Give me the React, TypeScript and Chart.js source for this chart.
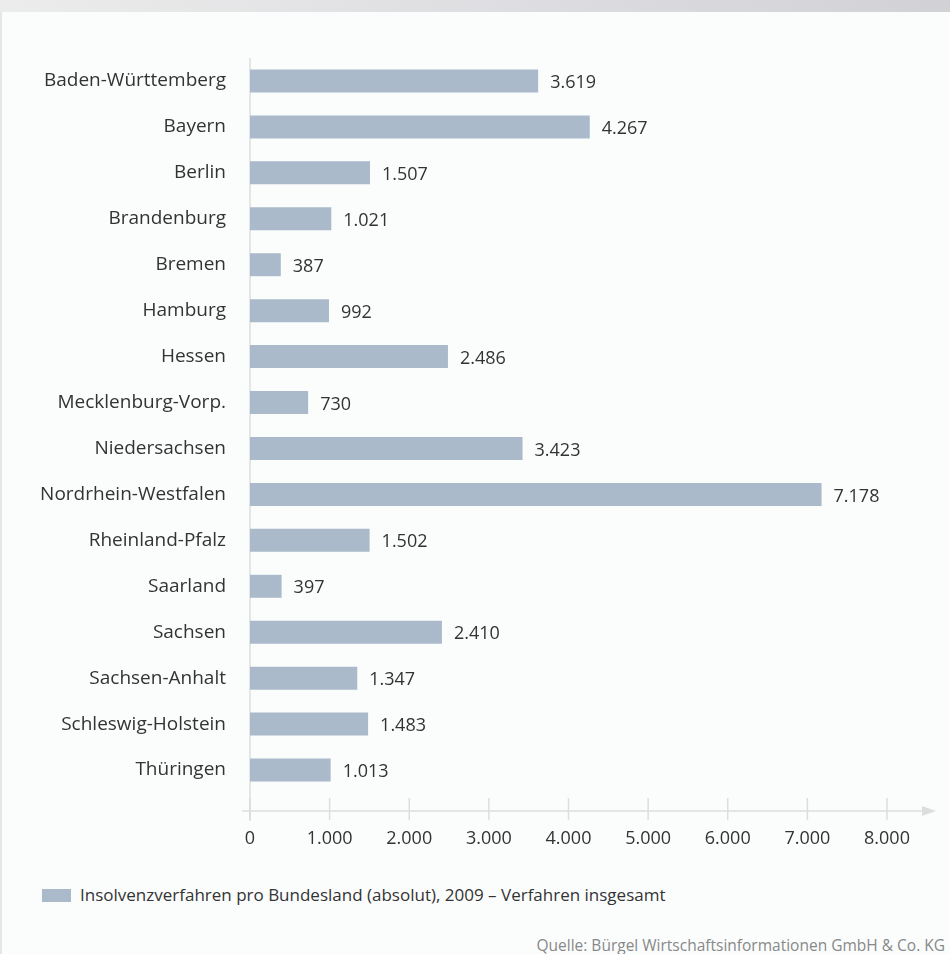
import React, { useEffect, useRef } from "react";
import { Chart, registerables } from "chart.js";

Chart.register(...registerables);

const categories = [
  "Baden-Württemberg",
  "Bayern",
  "Berlin",
  "Brandenburg",
  "Bremen",
  "Hamburg",
  "Hessen",
  "Mecklenburg-Vorp.",
  "Niedersachsen",
  "Nordrhein-Westfalen",
  "Rheinland-Pfalz",
  "Saarland",
  "Sachsen",
  "Sachsen-Anhalt",
  "Schleswig-Holstein",
  "Thüringen",
];

const values = [3619, 4267, 1507, 1021, 387, 992, 2486, 730, 3423, 7178, 1502, 397, 2410, 1347, 1483, 1013];

const axisMin = 0;
const axisMax = 8000;
const axisStep = 1000;

const legendLabel = "Insolvenzverfahren pro Bundesland (absolut), 2009 – Verfahren insgesamt";
const sourceLabel = "Quelle: Bürgel Wirtschaftsinformationen GmbH & Co. KG";

const FONT = "'Open Sans', 'Noto Sans', sans-serif";
const BAR_COLOR = "#aabaca";
const TEXT_COLOR = "#333333";
const AXIS_COLOR = "#dddddd";

const fmt = (v: number) => v.toLocaleString("de-DE");

const valueLabelPlugin = {
  id: "valueLabels",
  afterDatasetsDraw(chart: any) {
    const ctx = chart.ctx;
    const meta = chart.getDatasetMeta(0);
    ctx.save();
    ctx.font = `18px ${FONT}`;
    ctx.fillStyle = TEXT_COLOR;
    ctx.textAlign = "left";
    ctx.textBaseline = "middle";
    meta.data.forEach((bar: any, i: number) => {
      ctx.fillText(fmt(values[i]), bar.x + 12, bar.y + 2);
    });
    ctx.restore();
  },
};

const axisPlugin = {
  id: "customAxes",
  beforeDatasetsDraw(chart: any) {
    const ctx = chart.ctx;
    const area = chart.chartArea;
    const xs = chart.scales.x;
    const x0 = xs.getPixelForValue(axisMin);
    const xEnd = xs.getPixelForValue(axisMax);
    const axisY = area.bottom + 18;
    ctx.save();
    ctx.strokeStyle = AXIS_COLOR;
    ctx.lineWidth = 1.5;
    ctx.beginPath();
    ctx.moveTo(x0, area.top);
    ctx.lineTo(x0, axisY + 10);
    ctx.stroke();
    ctx.beginPath();
    ctx.moveTo(x0 - 8, axisY);
    ctx.lineTo(xEnd + 36, axisY);
    ctx.stroke();
    xs.ticks.forEach((t: any) => {
      const px = xs.getPixelForValue(t.value);
      ctx.beginPath();
      ctx.moveTo(px, axisY - 13);
      ctx.lineTo(px, axisY + 9);
      ctx.stroke();
    });
    ctx.fillStyle = AXIS_COLOR;
    ctx.beginPath();
    ctx.moveTo(xEnd + 35, axisY - 5);
    ctx.lineTo(xEnd + 49, axisY);
    ctx.lineTo(xEnd + 35, axisY + 5);
    ctx.closePath();
    ctx.fill();
    ctx.restore();
  },
};

export default function App() {
  const canvasRef = useRef<HTMLCanvasElement | null>(null);

  useEffect(() => {
    document.body.style.margin = "0";
    const canvas = canvasRef.current;
    if (!canvas) return;
    const chart = new Chart(canvas, {
      type: "bar",
      data: {
        labels: categories,
        datasets: [
          {
            label: legendLabel,
            data: values,
            backgroundColor: BAR_COLOR,
            borderWidth: 0,
            categoryPercentage: 1,
            barPercentage: 0.5,
          },
        ],
      },
      options: {
        indexAxis: "y",
        animation: false,
        responsive: false,
        maintainAspectRatio: false,
        devicePixelRatio: 1,
        layout: { padding: { top: 58, left: 0, right: 63, bottom: 17 } },
        plugins: {
          legend: { display: false },
          tooltip: { enabled: false },
        },
        scales: {
          x: {
            type: "linear",
            min: axisMin,
            max: axisMax,
            grid: { display: false, drawTicks: false },
            border: { display: false },
            ticks: {
              stepSize: axisStep,
              padding: 35,
              color: TEXT_COLOR,
              font: { family: FONT, size: 18 },
              maxRotation: 0,
              callback: (v: any) => fmt(Number(v)),
            },
            afterFit: (s: any) => {
              s.height = 60;
            },
          },
          y: {
            type: "category",
            grid: { display: false, drawTicks: false },
            border: { display: false },
            ticks: {
              padding: 24,
              color: TEXT_COLOR,
              font: { family: FONT, size: 19 },
              autoSkip: false,
            },
            afterFit: (s: any) => {
              s.width = 250;
            },
          },
        },
      },
      plugins: [axisPlugin, valueLabelPlugin],
    });
    return () => chart.destroy();
  }, []);

  return (
    <div
      style={{
        position: "fixed",
        left: 0,
        top: 0,
        width: 950,
        height: 954,
        overflow: "hidden",
        background: "#fbfdfd",
        fontFamily: FONT,
      }}
    >
      <div
        style={{
          position: "absolute",
          left: 0,
          top: 0,
          width: 950,
          height: 12,
          background: "linear-gradient(to right, #ececec, #dcdce0 60%, #d2d2d6)",
        }}
      />
      <div style={{ position: "absolute", left: 0, top: 12, width: 2, height: 942, background: "#e6e6e6" }} />
      <canvas ref={canvasRef} width={950} height={870} style={{ position: "absolute", left: 0, top: 0, width: 950, height: 870 }} />
      <div style={{ position: "absolute", left: 42, top: 889, width: 29, height: 13, background: BAR_COLOR }} />
      <div
        style={{
          position: "absolute",
          left: 80,
          top: 884,
          fontSize: 17,
          lineHeight: "22px",
          color: TEXT_COLOR,
          whiteSpace: "nowrap",
        }}
      >
        {legendLabel}
      </div>
      <div
        style={{
          position: "absolute",
          right: 5,
          top: 935,
          fontSize: 15.5,
          lineHeight: "20px",
          color: "#888888",
          whiteSpace: "nowrap",
        }}
      >
        {sourceLabel}
      </div>
    </div>
  );
}
